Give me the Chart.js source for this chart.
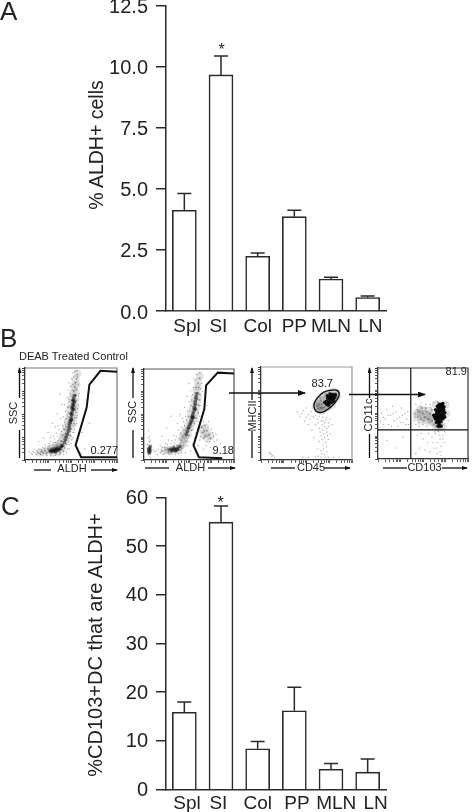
<!DOCTYPE html>
<html>
<head>
<meta charset="utf-8">
<script src="https://cdn.jsdelivr.net/npm/chart.js@4"></script>
<style>
  html, body { margin: 0; padding: 0; background: #fff; }
  body { position: relative; width: 472px; height: 812px; overflow: hidden; }
  canvas, svg { position: absolute; filter: blur(0.35px); }
  #chart-a { left: 0; top: -10px; }
  #chart-c { left: 0; top: 480px; }
  #flow-1 { left: 21px; top: 364px; }
  #flow-2 { left: 140px; top: 365px; }
  #flow-3 { left: 257px; top: 363px; }
  #flow-4 { left: 374px; top: 364px; }
  svg { left: 0; top: 0; pointer-events: none; }
  svg text { font-family: "Liberation Sans", Arial, sans-serif; fill: #222; }
</style>
</head>
<body>
<canvas id="chart-a" width="472" height="350"></canvas>
<canvas id="chart-c" width="472" height="332"></canvas>
<canvas id="flow-1" width="100" height="100"></canvas>
<canvas id="flow-2" width="98" height="99"></canvas>
<canvas id="flow-3" width="99" height="101"></canvas>
<canvas id="flow-4" width="98" height="99"></canvas>

<svg width="472" height="812" viewBox="0 0 472 812">
  <defs>
    <marker id="head" markerWidth="8" markerHeight="6" refX="7" refY="3" orient="auto" markerUnits="userSpaceOnUse"><path d="M0 0 L8 3 L0 6 Z" fill="#111"/></marker>
    <marker id="head-small" markerWidth="6" markerHeight="4" refX="5" refY="2" orient="auto" markerUnits="userSpaceOnUse"><path d="M0 0 L6 2 L0 4 Z" fill="#111"/></marker>
  </defs>
  <text x="0" y="20" font-size="26">A</text>
  <text x="0" y="346.5" font-size="26">B</text>
  <text x="1" y="514.5" font-size="26">C</text>
  <text x="221.5" y="55" font-size="16" text-anchor="middle">*</text>
  <text x="220.5" y="508" font-size="16" text-anchor="middle">*</text>
  <text transform="translate(103,145) rotate(-90)" font-size="19.5" text-anchor="middle">% ALDH+ cells</text>
  <text transform="translate(102,645) rotate(-90)" font-size="20" text-anchor="middle">%CD103+DC that are ALDH+</text>

  <text x="19" y="360" font-size="11">DEAB Treated Control</text>
  <text x="118" y="454" font-size="11" text-anchor="end">0.277</text>
  <text x="234" y="454" font-size="11" text-anchor="end">9.18</text>
  <text x="333" y="387" font-size="11" text-anchor="end">83.7</text>
  <text x="467" y="375" font-size="11" text-anchor="end">81.9</text>

  <text x="72" y="472" font-size="11" text-anchor="middle">ALDH</text>
  <text x="190.5" y="471" font-size="11" text-anchor="middle">ALDH</text>
  <text x="311" y="471" font-size="11" text-anchor="middle">CD45</text>
  <text x="424.5" y="471" font-size="11" text-anchor="middle">CD103</text>
  <text transform="translate(17,413) rotate(-90)" font-size="11" text-anchor="middle">SSC</text>
  <text transform="translate(136,412) rotate(-90)" font-size="11" text-anchor="middle">SSC</text>
  <text transform="translate(256,416) rotate(-90)" font-size="11" text-anchor="middle">MHCII</text>
  <text transform="translate(372,415) rotate(-90)" font-size="11" text-anchor="middle">CD11c</text>

  <g stroke="#111" stroke-width="1.3" fill="none">
    <line x1="34" y1="470" x2="51" y2="470"/>
    <line x1="91" y1="470" x2="117" y2="470" marker-end="url(#head-small)"/>
    <line x1="145" y1="468" x2="169" y2="468"/>
    <line x1="208" y1="468" x2="235" y2="468" marker-end="url(#head-small)"/>
    <line x1="271" y1="468" x2="295" y2="468"/>
    <line x1="324" y1="468" x2="350" y2="468" marker-end="url(#head-small)"/>
    <line x1="383" y1="468" x2="407" y2="468"/>
    <line x1="442" y1="468" x2="467" y2="468" marker-end="url(#head-small)"/>
    <line x1="19.5" y1="398" x2="19.5" y2="368" marker-end="url(#head-small)"/>
    <line x1="19.5" y1="458" x2="19.5" y2="430"/>
    <line x1="133" y1="398" x2="133" y2="368" marker-end="url(#head-small)"/>
    <line x1="133" y1="458" x2="133" y2="430"/>
    <line x1="252" y1="400" x2="252" y2="368" marker-end="url(#head-small)"/>
    <line x1="252" y1="458" x2="252" y2="431"/>
    <line x1="369.5" y1="398" x2="369.5" y2="368" marker-end="url(#head-small)"/>
    <line x1="369.5" y1="458" x2="369.5" y2="434"/>
    <line x1="229" y1="393" x2="305" y2="393" marker-end="url(#head)"/>
    <line x1="349" y1="394.5" x2="425" y2="394.5" marker-end="url(#head)"/>
  </g>
</svg>

<script>
const categories = ['Spl', 'SI', 'Col', 'PP', 'MLN', 'LN'];

const valuesA = [4.12, 9.66, 2.24, 3.86, 1.31, 0.55];
const errorTopsA = [4.81, 10.43, 2.37, 4.12, 1.38, 0.61];
const yTicksA = [0, 2.5, 5, 7.5, 10, 12.5];

const valuesC = [15.9, 54.9, 8.4, 16.2, 4.2, 3.6];
const errorTopsC = [18.0, 58.2, 9.9, 21.0, 5.4, 6.3];
const yTicksC = [0, 10, 20, 30, 40, 50, 60];

// flow plots, both axes run 0-100
const flowTicks = [0, 8, 13, 17, 20, 22, 24, 25, 33, 38, 42, 45, 47, 49, 50, 58, 63, 67, 70, 72, 74, 75, 83, 88, 92, 95, 97, 99, 100];

const gate1 = [[100, 96], [82, 97], [70, 82], [67, 57], [55, 16], [61, 3], [100, 3]];
const core1 = [[27, 10], [28, 9], [29, 11], [30, 10], [31, 9], [31, 12], [32, 10], [33, 11], [33, 9], [34, 12], [35, 10], [35, 13], [36, 11], [37, 12], [38, 12], [39, 14], [40, 15], [41, 16], [43, 19], [44, 22], [45, 25], [46, 28], [47, 31], [48, 34], [48, 37], [49, 40], [50, 43], [50, 46], [51, 49], [51, 52], [52, 55], [52, 58], [52, 61], [53, 64], [53, 67], [49, 42], [51, 44], [50, 50], [53, 55], [51, 57], [53, 60], [52, 65], [54, 63], [54, 70]];
const haze1 = [[16, 8], [20, 9], [24, 10], [28, 12], [32, 13], [36, 9], [36, 14], [40, 12], [42, 18], [38, 18], [44, 25], [41, 24], [47, 25], [43, 30], [47, 33], [45, 36], [50, 36], [47, 42], [51, 40], [48, 48], [53, 46], [49, 54], [54, 52], [50, 60], [55, 58], [51, 66], [55, 66], [52, 72], [55, 74], [53, 80], [56, 82], [55, 88], [57, 94], [35, 16], [30, 8]];
const mid1 = [[14, 8], [18, 9], [20, 8], [22, 10], [24, 8], [25, 12], [27, 13], [29, 7], [32, 14], [34, 7], [36, 15], [38, 8], [39, 17], [41, 11], [43, 13], [40, 20], [43, 25], [45, 17], [44, 29], [46, 33], [47, 20], [49, 27], [45, 36], [47, 39], [49, 31], [48, 44], [50, 34], [49, 50], [53, 40], [50, 55], [54, 46], [51, 60], [55, 52], [51, 65], [55, 58], [52, 70], [56, 65], [53, 75], [55, 70], [54, 79], [56, 76], [55, 84], [56, 88], [57, 93], [56, 97]];
const sparse1 = [[8, 6], [5, 9], [10, 11], [12, 6], [15, 12], [17, 6], [19, 14], [22, 16], [24, 5], [26, 18], [28, 20], [30, 17], [32, 23], [33, 19], [35, 26], [36, 21], [38, 28], [37, 33], [39, 25], [40, 31], [41, 37], [42, 34], [43, 41], [44, 38], [45, 45], [42, 47], [46, 49], [44, 53], [47, 57], [43, 60], [48, 64], [46, 68], [49, 72], [47, 76], [50, 80], [48, 84], [51, 88], [52, 95], [58, 82], [59, 72], [58, 60], [57, 48], [56, 40], [54, 33], [52, 24], [50, 18], [48, 12], [45, 8], [42, 6], [60, 8], [65, 12], [62, 30], [70, 40], [35, 50], [30, 40], [25, 30], [40, 60], [38, 72], [20, 24], [15, 20],
  [7, 7], [9, 9], [11, 8], [13, 10], [16, 7], [18, 11], [21, 13], [23, 6], [25, 15], [27, 16], [29, 14], [31, 19], [34, 16], [37, 23], [39, 21], [41, 27], [42, 23], [43, 33], [44, 44], [46, 41], [47, 47], [47, 52], [46, 58], [49, 59], [48, 66], [50, 70], [51, 76], [52, 82], [53, 90], [54, 96], [57, 90], [58, 70], [57, 56], [56, 46], [55, 38], [53, 30], [51, 22], [48, 17], [46, 12], [42, 9], [38, 6], [33, 5], [28, 5], [50, 26], [52, 30], [34, 29], [31, 26], [28, 25], [36, 37], [39, 45], [33, 36]];

const gate2 = [[100, 95], [82, 96], [69, 82], [67, 56], [55, 16], [61, 3], [87, 2]];
const core2 = [[5, 9], [6, 11], [6, 13], [7, 15], [5, 12], [7, 10], [6, 8], [28, 11], [30, 12], [31, 10], [32, 11], [33, 13], [34, 12], [35, 10], [36, 12], [37, 11], [38, 13], [40, 15], [47, 28], [48, 31], [49, 34], [50, 36], [51, 39], [52, 41], [53, 43], [54, 46], [54, 49], [55, 52], [56, 55], [56, 58], [57, 61], [57, 64], [58, 67], [58, 70], [59, 73], [55, 47], [57, 56], [53, 47]];
const haze2 = [[22, 10], [26, 11], [30, 10], [34, 13], [38, 11], [40, 14], [43, 17], [45, 22], [42, 22], [46, 26], [44, 28], [49, 28], [47, 33], [51, 35], [49, 38], [53, 40], [51, 44], [56, 46], [52, 50], [57, 52], [54, 56], [58, 58], [55, 62], [59, 64], [56, 68], [60, 70], [58, 76], [60, 80], [60, 86], [62, 92], [66, 28], [70, 30], [64, 34], [70, 24], [74, 26], [68, 36]];
const mid2 = [[4, 17], [6, 20], [7, 7], [5, 6], [8, 13], [20, 10], [24, 11], [26, 13], [27, 8], [30, 8], [33, 15], [35, 9], [37, 16], [40, 11], [42, 13], [41, 22], [44, 16], [43, 27], [47, 21], [46, 33], [50, 27], [49, 38], [53, 33], [51, 44], [56, 40], [53, 50], [58, 46], [54, 56], [60, 52], [55, 62], [61, 60], [56, 68], [62, 66], [57, 74], [62, 72], [58, 80], [61, 80], [60, 85], [62, 90], [62, 96], [65, 30], [68, 26], [70, 32], [66, 24], [72, 28], [64, 36], [68, 38], [74, 24]];
const sparse2 = [[6, 26], [5, 32], [7, 3], [12, 9], [15, 6], [16, 12], [18, 16], [22, 6], [24, 18], [27, 22], [30, 18], [33, 27], [35, 22], [38, 33], [37, 40], [40, 28], [42, 36], [44, 42], [40, 50], [46, 48], [45, 58], [48, 54], [50, 64], [48, 70], [52, 76], [50, 84], [55, 90], [64, 44], [66, 52], [70, 20], [75, 34], [78, 20], [80, 28], [72, 42], [74, 14], [66, 12], [60, 16], [56, 24], [58, 30], [62, 22], [64, 84], [65, 75], [25, 35], [30, 48], [20, 26], [85, 18], [70, 60], [35, 6], [46, 8], [52, 10],
  [5, 24], [7, 22], [10, 11], [14, 10], [18, 8], [20, 14], [23, 14], [26, 17], [29, 15], [31, 21], [34, 19], [36, 26], [39, 24], [41, 30], [44, 33], [45, 38], [43, 46], [47, 44], [49, 48], [50, 54], [52, 60], [53, 66], [54, 72], [55, 80], [57, 88], [59, 94], [63, 78], [63, 60], [62, 48], [60, 42], [60, 34], [58, 26], [63, 26], [67, 32], [71, 36], [76, 30], [73, 20], [69, 16], [77, 26], [81, 22], [62, 40], [66, 42], [42, 8], [38, 7], [28, 6], [48, 16], [50, 20], [54, 18]];

const gate3 = [[58, 58], [60, 53], [65, 51], [71, 53], [78, 58], [83, 64], [86, 71], [83, 75], [77, 75], [69, 73], [63, 68], [59, 62], [58, 58]];
const core3 = [[70, 62], [72, 63], [73, 66], [74, 62], [75, 64], [75, 68], [76, 61], [77, 65], [77, 68], [78, 62], [78, 70], [79, 66], [80, 64], [80, 70], [81, 67], [82, 70], [72, 60], [74, 59], [76, 66], [79, 68], [73, 69], [76, 71]];
const haze3 = [[60, 58], [62, 56], [64, 54], [66, 53], [68, 54], [62, 61], [65, 60], [67, 63], [69, 58], [71, 55], [73, 57], [65, 65], [68, 68], [71, 70], [74, 72], [78, 73], [82, 73], [84, 69], [82, 65], [78, 59], [75, 60], [64, 57]];
const mid3 = [[62, 58], [64, 60], [63, 55], [66, 56], [67, 60], [68, 56], [70, 57], [66, 64], [70, 68], [72, 71], [75, 72], [79, 72], [82, 72], [83, 68], [80, 62], [75, 57], [61, 61], [65, 67]];
const sparse3 = [[45, 50], [50, 46], [40, 52], [48, 42], [54, 44], [58, 46], [62, 44], [66, 42], [70, 40], [72, 46], [74, 36], [60, 38], [64, 34], [68, 32], [72, 30], [66, 26], [70, 24], [74, 22], [64, 20], [68, 16], [72, 14], [66, 10], [70, 6], [63, 4], [60, 3], [66, 3], [70, 3], [74, 3], [9, 8], [11, 6], [13, 5], [15, 3], [52, 38], [56, 32], [76, 44], [78, 38], [58, 24], [46, 3], [52, 3], [80, 3], [86, 3], [55, 52], [50, 56], [76, 28], [62, 12],
  [43, 47], [47, 53], [52, 49], [56, 47], [60, 48], [64, 47], [68, 46], [71, 43], [67, 38], [70, 36], [65, 30], [69, 28], [73, 26], [67, 22], [71, 19], [69, 12], [72, 9], [67, 7], [10, 7], [12, 4], [68, 42], [63, 40], [72, 34], [74, 40]];

const quadrantV = [[36.4, 0], [36.4, 100]];
const quadrantH = [[0, 32], [100, 32]];
const core4 = [[64, 44], [66, 48], [68, 46], [70, 44], [66, 52], [68, 50], [70, 52], [72, 50], [67, 56], [69, 58], [71, 56], [73, 54], [65, 40], [68, 41], [70, 60], [72, 61], [62, 48], [64, 54], [66, 58], [74, 46], [68, 38], [71, 48], [63, 46], [65, 46], [67, 44], [69, 48], [71, 46], [73, 48], [65, 50], [67, 53], [69, 54], [71, 53], [73, 57], [68, 60], [72, 58], [66, 42], [70, 41], [72, 44], [74, 51], [70, 36], [67, 36]];
const haze4 = [[44, 46], [47, 50], [50, 46], [52, 50], [55, 47], [58, 46], [60, 50], [56, 53], [50, 54], [46, 54], [60, 44], [57, 41], [53, 43], [62, 40], [64, 36], [68, 34], [72, 36], [64, 60], [75, 60], [76, 50], [43, 50], [48, 42]];
const mid4 = [[44, 46], [46, 52], [48, 44], [50, 50], [52, 46], [54, 52], [56, 44], [58, 50], [60, 42], [60, 54], [57, 40], [53, 56], [49, 56], [62, 38], [64, 36], [70, 36], [68, 34], [72, 38], [75, 58], [76, 50], [66, 63], [44, 54], [41, 50]];
const sparse4 = [[4, 50], [8, 44], [10, 54], [12, 38], [14, 48], [16, 58], [18, 42], [20, 52], [22, 36], [24, 46], [26, 56], [28, 40], [30, 50], [32, 44], [34, 38], [6, 38], [40, 42], [42, 38], [46, 36], [50, 38], [54, 36], [42, 60], [48, 62], [58, 60], [44, 26], [50, 22], [56, 28], [60, 24], [64, 28], [68, 26], [72, 22], [66, 18], [70, 14], [62, 12], [58, 8], [66, 6], [70, 4], [46, 12], [52, 10], [42, 6], [74, 30], [78, 42], [20, 12], [28, 24], [10, 20], [76, 62], [62, 62],
  [6, 46], [11, 48], [17, 50], [21, 44], [25, 40], [27, 48], [31, 38], [33, 52], [3, 42], [15, 36], [41, 46], [45, 40], [51, 42], [47, 58], [53, 60], [59, 56], [63, 30], [67, 30], [69, 22], [65, 12], [69, 8], [61, 18], [55, 18], [48, 28], [72, 26], [74, 18]];

Chart.defaults.font.family = '"Liberation Sans", Arial, sans-serif';
Chart.defaults.color = '#222';

const errorBars = {
  id: 'errorBars',
  afterDatasetsDraw(chart, args, opts) {
    const { ctx, scales: { x, y } } = chart;
    ctx.save();
    ctx.strokeStyle = '#2a2a2a';
    ctx.lineWidth = 1.5;
    opts.tops.forEach((top, i) => {
      const px = x.getPixelForValue(i);
      const from = y.getPixelForValue(opts.values[i]);
      const to = y.getPixelForValue(top);
      ctx.beginPath();
      ctx.moveTo(px, from);
      ctx.lineTo(px, to);
      ctx.moveTo(px - 7, to);
      ctx.lineTo(px + 7, to);
      ctx.stroke();
    });
    ctx.restore();
  }
};

const frame = {
  id: 'frame',
  beforeDatasetsDraw(chart, args, opts) {
    const { ctx, chartArea: a } = chart;
    ctx.save();
    ctx.strokeStyle = opts.color;
    ctx.lineWidth = 1.2;
    ctx.beginPath();
    ctx.moveTo(a.left, a.top);
    ctx.lineTo(a.right, a.top);
    ctx.lineTo(a.right, a.bottom);
    ctx.stroke();
    ctx.restore();
  }
};

// space padding nudges the category labels off centre the way they sit in the figure
const renderBars = (id, values, tops, yTicks, format, pad, top, axisHeight, tickPadding, labelOffset) => new Chart(document.getElementById(id), {
  type: 'bar',
  data: {
    labels: categories,
    datasets: [{
      data: values,
      backgroundColor: '#fff',
      borderColor: '#2a2a2a',
      borderWidth: 1.6,
      barThickness: 24
    }]
  },
  plugins: [errorBars],
  options: {
    responsive: false,
    animation: false,
    layout: { padding: { top, right: 86 } },
    plugins: {
      legend: { display: false },
      tooltip: { enabled: false },
      errorBars: { tops, values }
    },
    scales: {
      x: {
        grid: { display: false, drawTicks: false },
        border: { color: '#2a2a2a', width: 1.5 },
        ticks: {
          autoSkip: false,
          maxRotation: 0,
          padding: tickPadding,
          color: '#222',
          font: { size: 19 },
          callback: (v, i) => ' '.repeat(pad[i][0]) + categories[i] + ' '.repeat(pad[i][1])
        },
        afterFit: s => { s.height = axisHeight; s.paddingLeft = 0; s.paddingRight = 0; }
      },
      y: {
        min: yTicks[0],
        max: yTicks[yTicks.length - 1],
        afterBuildTicks: s => { s.ticks = yTicks.map(value => ({ value })); },
        grid: { drawOnChartArea: false, drawTicks: true, tickLength: 10, color: '#2a2a2a', lineWidth: 1.5 },
        border: { color: '#2a2a2a', width: 1.5 },
        ticks: { padding: 8, color: '#222', font: { size: 20 }, labelOffset, callback: format },
        afterFit: s => { s.width = 166; s.paddingTop = 0; s.paddingBottom = 0; }
      }
    }
  }
});

renderBars('chart-a', valuesA, errorTopsA, yTicksA, v => v.toFixed(1), [[1, 0], [0, 1], [0, 0], [0, 0], [0, 0], [1, 0]], 15.5, 29, 4, 2);
renderBars('chart-c', valuesC, errorTopsC, yTicksC, v => `${v}`, [[1, 0], [0, 1], [0, 0], [1, 0], [2, 0], [3, 0]], 17.3, 22.3, 3, 1);

const lineSet = (data, tension = 0) => ({ data, showLine: true, pointRadius: 0, borderColor: '#111', borderWidth: 2, tension, fill: false });
const dotSet = (data, radius, color) => ({ data, showLine: false, pointRadius: radius, pointBackgroundColor: color, pointBorderWidth: 0 });

const renderFlow = (id, lines, core, mid, sparse, haze, frameColor, coreColor) => new Chart(document.getElementById(id), {
  type: 'scatter',
  data: {
    datasets: [
      ...lines,
      dotSet(core, 1.8, coreColor),
      dotSet(mid, 1, 'rgba(60,60,60,0.4)'),
      dotSet(sparse, 0.7, 'rgba(60,60,60,0.42)'),
      dotSet(haze, 4, 'rgba(50,50,50,0.13)')
    ].map(d => ({ ...d, data: d.data.map(([x, y]) => ({ x, y })) }))
  },
  plugins: [frame],
  options: {
    responsive: false,
    animation: false,
    layout: { padding: { top: 1, right: 1 } },
    plugins: {
      legend: { display: false },
      tooltip: { enabled: false },
      frame: { color: frameColor }
    },
    scales: {
      x: {
        type: 'linear',
        min: 0,
        max: 100,
        afterBuildTicks: s => { s.ticks = flowTicks.map(value => ({ value })); },
        grid: { drawOnChartArea: false, tickLength: 3, color: '#333', lineWidth: 0.8 },
        border: { color: '#333', width: 1.3 },
        ticks: { display: false },
        afterFit: s => { s.height = 4; s.paddingLeft = 0; s.paddingRight = 0; }
      },
      y: {
        min: 0,
        max: 100,
        afterBuildTicks: s => { s.ticks = flowTicks.map(value => ({ value })); },
        grid: { drawOnChartArea: false, tickLength: 3, color: '#333', lineWidth: 0.8 },
        border: { color: '#333', width: 1.3 },
        ticks: { display: false },
        afterFit: s => { s.width = 4; s.paddingTop = 0; s.paddingBottom = 0; }
      }
    }
  }
});

renderFlow('flow-1', [lineSet(gate1)], core1, mid1, sparse1, haze1, '#777', 'rgba(15,15,15,0.55)');
renderFlow('flow-2', [lineSet(gate2)], core2, mid2, sparse2, haze2, '#555', 'rgba(15,15,15,0.55)');
renderFlow('flow-3', [{ ...lineSet(gate3, 0.4), borderWidth: 1.4 }], core3, mid3, sparse3, haze3, '#999', 'rgba(5,5,5,0.9)');
renderFlow('flow-4', [{ ...lineSet(quadrantV), borderWidth: 1.2 }, { ...lineSet(quadrantH), borderWidth: 1.2 }], core4, mid4, sparse4, haze4, '#333', 'rgba(5,5,5,0.95)');
</script>
</body>
</html>
